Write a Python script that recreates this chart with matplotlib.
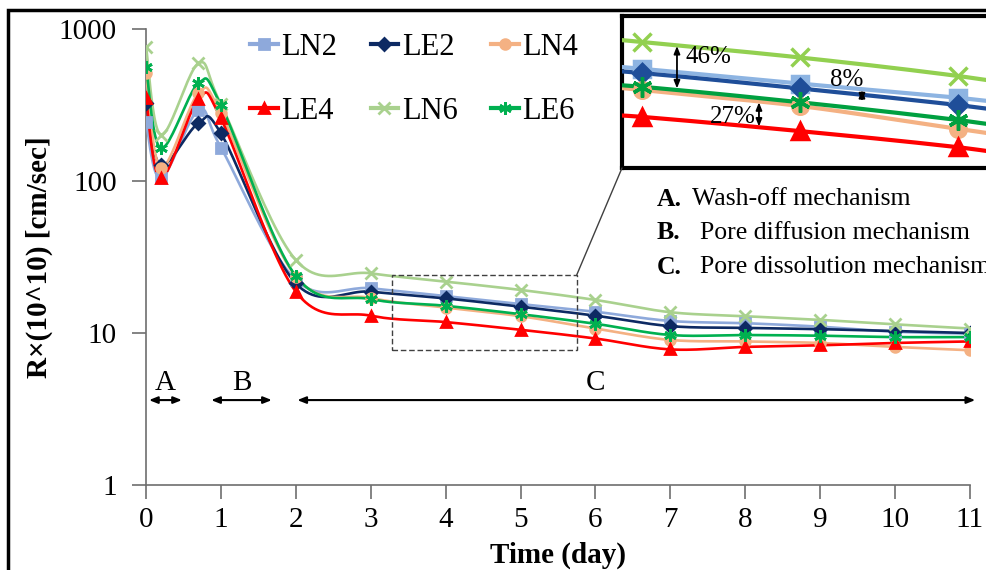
import matplotlib
matplotlib.use("Agg")
import matplotlib.pyplot as plt
from matplotlib.patches import Rectangle, ConnectionPatch
from matplotlib.lines import Line2D
import numpy as np

plt.rcParams['font.family'] = ['Liberation Serif', 'DejaVu Serif']

# sampling times (day) and R x 10^10 (cm/sec)
days = [0, 0.2, 0.7, 1, 2, 3, 4, 5, 6, 7, 8, 9, 10, 11]
ln2 = [245, 104, 293, 166, 22.3, 19.7, 17.5, 15.5, 13.8, 12.0, 11.6, 11.0, 10.2, 9.9]
le2 = [326, 127, 240, 206, 21.2, 18.7, 16.9, 14.9, 13.0, 11.1, 10.8, 10.6, 10.3, 10.0]
ln4 = [511, 122, 377, 280, 23.5, 17.0, 14.7, 12.9, 10.7, 9.0, 8.8, 8.6, 8.1, 7.7]
le4 = [350, 104, 345, 258, 18.7, 13.0, 11.8, 10.5, 9.2, 7.8, 8.1, 8.3, 8.6, 8.8]
ln6 = [765, 201, 595, 320, 30.2, 24.7, 21.8, 19.2, 16.5, 13.7, 12.9, 12.2, 11.4, 10.7]
le6 = [565, 164, 440, 316, 23.7, 16.7, 15.1, 13.3, 11.5, 9.7, 9.7, 9.6, 9.4, 9.4]

series = [
    ('LN2', ln2, '#8EA9DB', '#8DB4E2', 's', 7),
    ('LE2', le2, '#0D2A63', '#1F4E99', 'D', 6),
    ('LN4', ln4, '#F4B183', '#F4B183', 'o', 7),
    ('LE4', le4, '#FF0000', '#FF0000', '^', 7),
    ('LN6', ln6, '#A9D18E', '#92D050', 'x', 8),
    ('LE6', le6, '#00B050', '#00A040', (6, 2, 0), 9),
]

XS, YS = 74.9, 152.0  # screen scale used for the smooth curve


def smooth(t, v, n=24):
    P = np.column_stack([np.asarray(t) * XS, np.log10(v) * YS])
    out = []
    for i in range(len(P) - 1):
        p0 = P[i - 1] if i > 0 else P[i]
        p1, p2 = P[i], P[i + 1]
        p3 = P[i + 2] if i + 2 < len(P) else P[i + 1]
        c1 = p1 + (p2 - p0) / 6
        c2 = p2 - (p3 - p1) / 6
        s = np.linspace(0, 1, n)[:, None]
        seg = (1 - s) ** 3 * p1 + 3 * (1 - s) ** 2 * s * c1 + 3 * (1 - s) * s ** 2 * c2 + s ** 3 * p2
        out.append(seg if i == 0 else seg[1:])
    out = np.vstack(out)
    return out[:, 0] / XS, 10 ** (out[:, 1] / YS)


W, H = 987, 570
fig = plt.figure(figsize=(W / 100, H / 100), dpi=100)
ax = fig.add_axes([146 / W, 1 - 485 / H, (970 - 146) / W, (485 - 29) / H])

handles = {}
for name, vals, col, _, mk, ms in series:
    xs, ys = smooth(days, vals)
    ax.plot(xs, ys, color=col, lw=1.9, zorder=3)
    ax.plot(days, vals, ls='none', marker=mk, ms=ms, color=col, mec=col, mew=2, zorder=4)
    handles[name] = Line2D([], [], color=col, lw=3, marker=mk, ms=ms, mec=col, mew=2)

ax.set_yscale('log')
ax.set_ylim(1, 1000)
ax.set_xlim(0, 11)
ax.set_xticks(range(12))
ax.set_yticks([1, 10, 100, 1000])
ax.set_yticklabels(['1', '10', '100', '1000'])
ax.minorticks_off()
for s in ['top', 'right']:
    ax.spines[s].set_visible(False)
for s in ['left', 'bottom']:
    ax.spines[s].set_color('#6e6e6e')
    ax.spines[s].set_linewidth(1.2)
ax.tick_params(axis='both', colors='#6e6e6e', labelcolor='black', labelsize=21, length=10, width=1.2, pad=6)
ax.tick_params(axis='y', pad=11)
ax.set_xlabel('Time (day)', fontsize=21, fontweight='bold', labelpad=6)
ax.set_ylabel('R×(10^10) [cm/sec]', fontsize=21, fontweight='bold', labelpad=4)

order = ['LN2', 'LE4', 'LE2', 'LN6', 'LN4', 'LE6']
ax.legend([handles[k] for k in order], order, ncol=3, frameon=False, fontsize=22,
          loc='upper left', bbox_to_anchor=(250 / W, 1 - 33 / H), bbox_transform=fig.transFigure,
          borderpad=0, borderaxespad=0, handlelength=0.9, handletextpad=0.12, columnspacing=1.1,
          labelspacing=1.15)

# mechanism ranges
arr = dict(arrowstyle='<|-|>,head_length=0.5,head_width=0.2', color='black', lw=1.5, shrinkA=0, shrinkB=0)
for lab, a, b in [('A', 0.04, 0.48), ('B', 0.87, 1.68), ('C', 2.02, 11.07)]:
    ax.annotate('', xy=(a, 3.62), xytext=(b, 3.62), arrowprops=arr, annotation_clip=False)
    ax.text((a + b) / 2 if lab != 'C' else 6.0, 3.85, lab, fontsize=21, ha='center', va='bottom')

# mechanism notes
for y, b, txt, x2 in [(199, 'A.', 'Wash-off mechanism', 692), (233, 'B.', 'Pore diffusion mechanism', 700),
                      (267, 'C.', 'Pore dissolution mechanism', 700)]:
    fig.text(657 / W, 1 - y / H, b, fontsize=18.5, fontweight='bold', va='center')
    fig.text(x2 / W, 1 - y / H, txt, fontsize=18.5, va='center')

# dashed zoom box
ax.add_patch(Rectangle((3.28, 7.73), 5.75 - 3.28, 24.1 - 7.73, fill=False, ls=(0, (4, 2)),
                       ec='#404040', lw=1.0, zorder=5))

# inset
axi = fig.add_axes([622 / W, 1 - 168 / H, (1040 - 622) / W, (168 - 16) / H])
for name, vals, _, col, mk, ms in series:
    xs, ys = smooth(days, vals)
    axi.plot(xs, ys, color=col, lw=3, zorder=3)
    axi.plot(days, vals, ls='none', marker=mk, ms=ms * 1.6, color=col, mec=col, mew=2.5, zorder=4)
axi.set_yscale('log')
axi.set_xlim(3.873, 6.519)
axi.set_ylim(7.76, 26.98)
axi.set_xticks([])
axi.set_yticks([])
axi.minorticks_off()
for s in axi.spines.values():
    s.set_linewidth(3)
    s.set_color('black')

arr2 = dict(arrowstyle='<|-|>,head_length=0.45,head_width=0.18', color='black', lw=1.3, shrinkA=0, shrinkB=0)
axi.annotate('', xy=(4.221, 21.1), xytext=(4.221, 14.9), arrowprops=arr2)
axi.text(4.417, 19.3, '46%', fontsize=18, ha='center', va='center')
axi.annotate('', xy=(5.392, 14.7), xytext=(5.392, 13.4), arrowprops=arr2)
axi.text(5.297, 16.0, '8%', fontsize=18, ha='center', va='center')
axi.annotate('', xy=(4.740, 13.3), xytext=(4.740, 10.9), arrowprops=arr2)
axi.text(4.576, 11.8, '27%', fontsize=18, ha='center', va='center')

con = ConnectionPatch(xyA=(5.75, 24.1), coordsA=ax.transData, xyB=(0, 0), coordsB=axi.transAxes,
                      color='#404040', lw=1.0)
fig.add_artist(con)

# outer frame
fig.add_artist(Rectangle((8 / W, -0.1), 1.2, 1 - 10 / H + 0.1, transform=fig.transFigure,
                         fill=False, ec='black', lw=2.5, clip_on=False))

fig.savefig('out.png', dpi=100)
